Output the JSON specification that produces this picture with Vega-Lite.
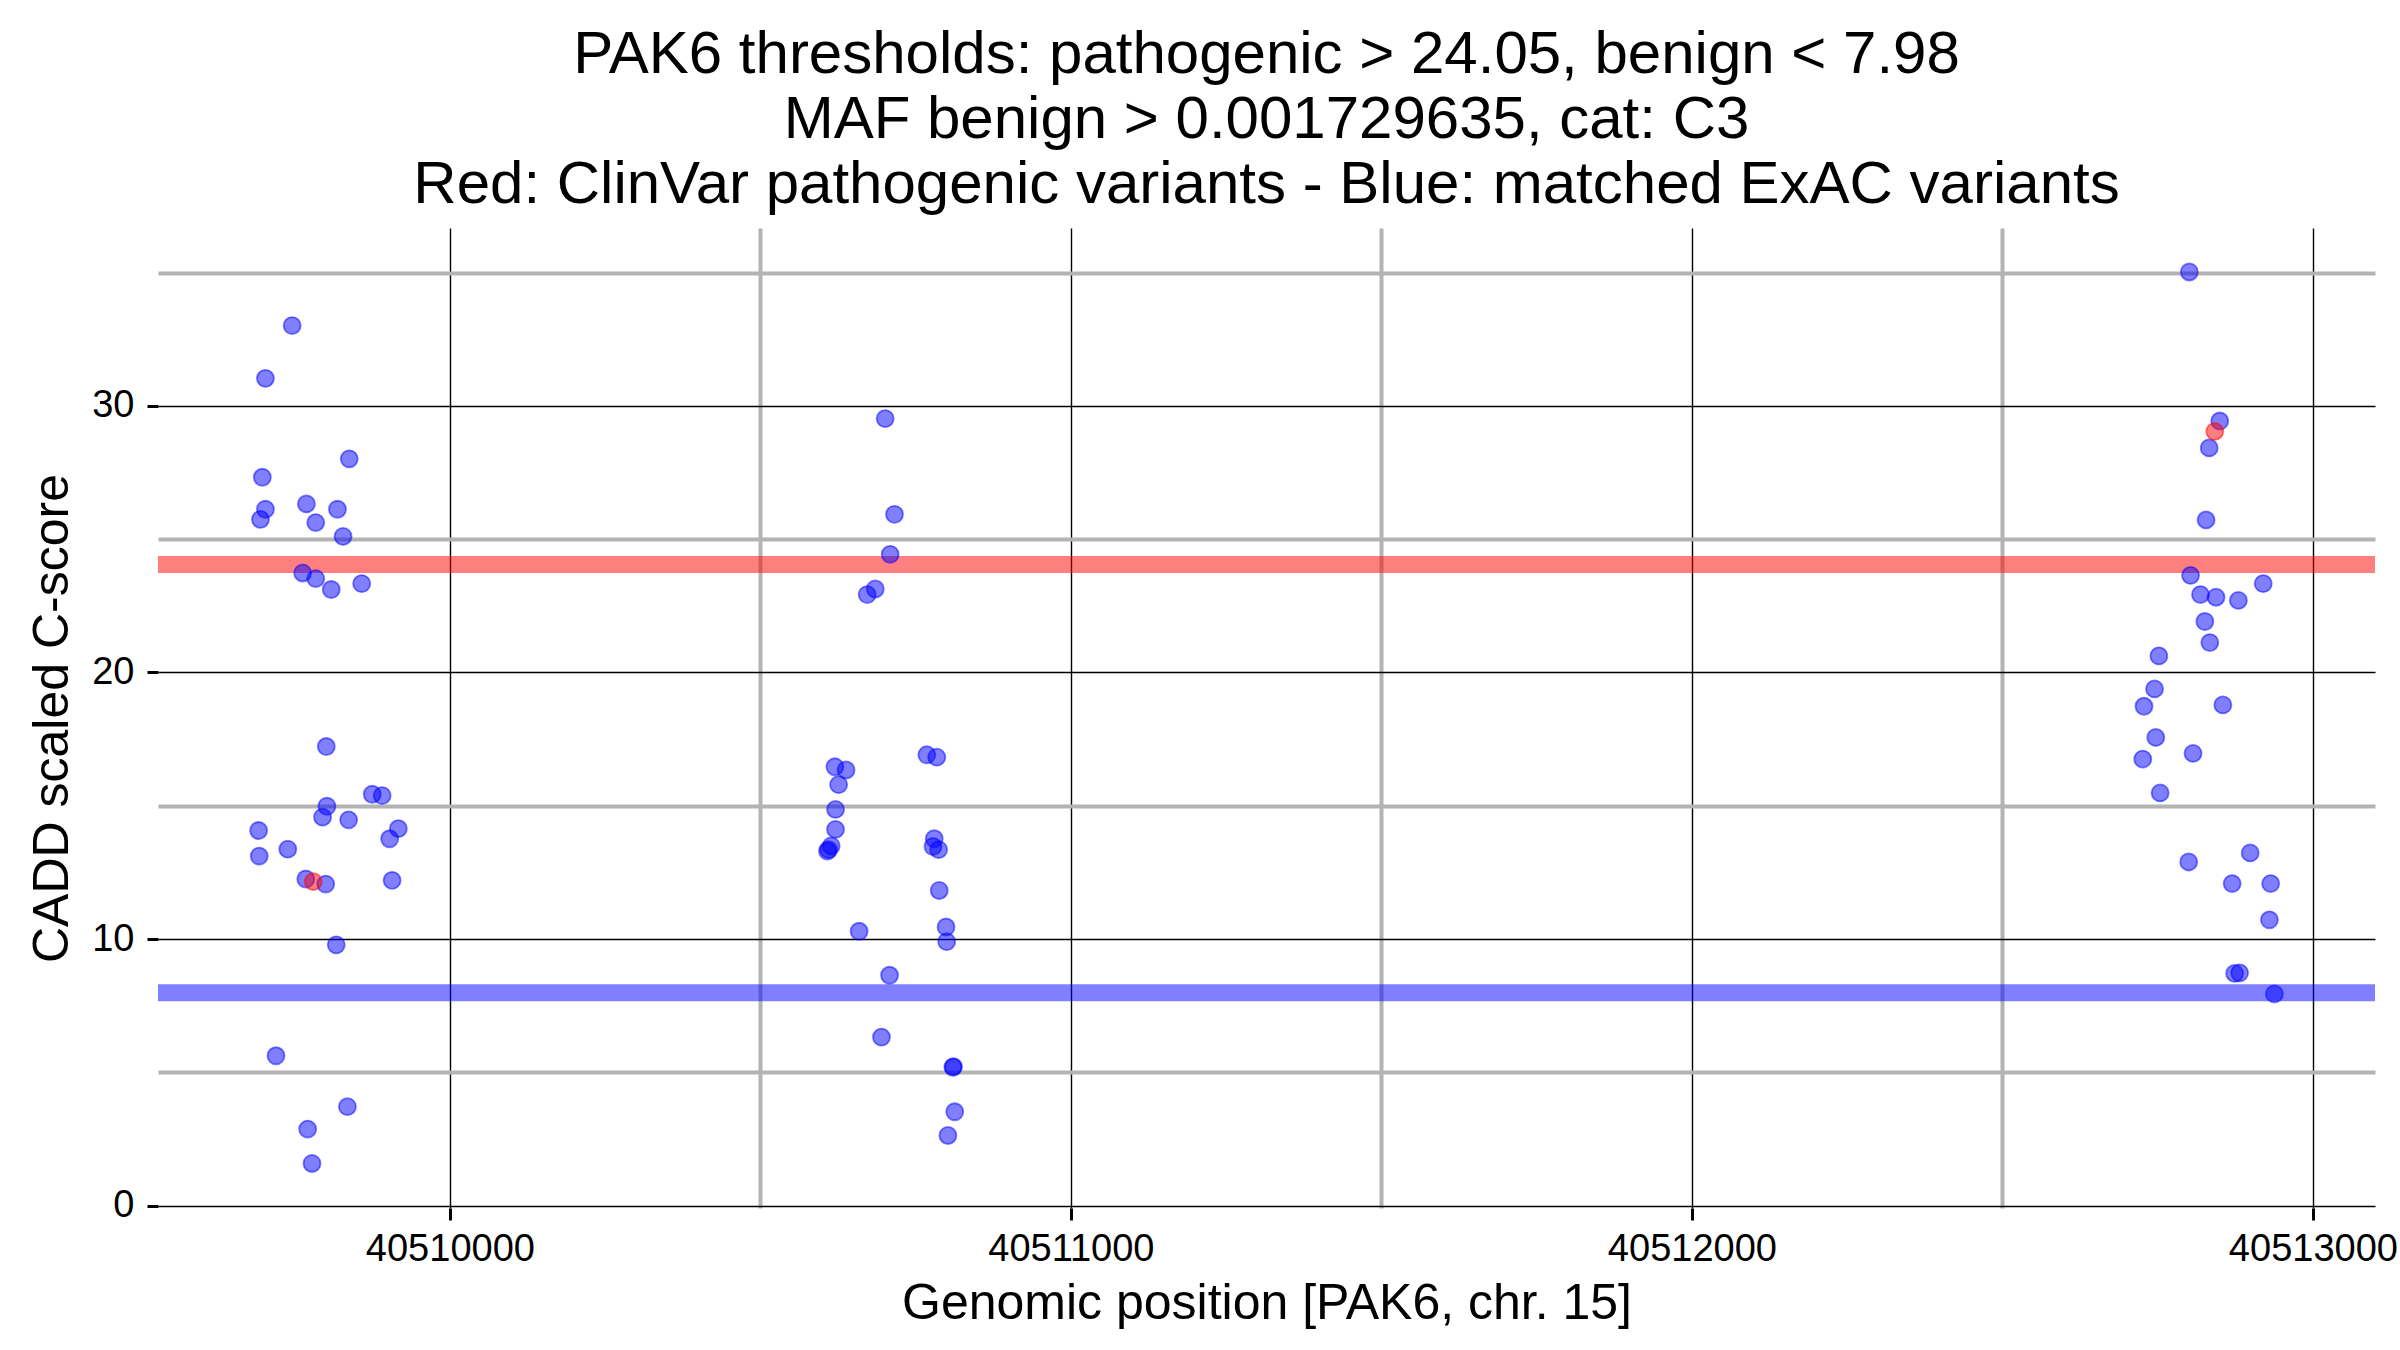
{
  "$schema": "https://vega.github.io/schema/vega-lite/v6.json",
  "width": 2217,
  "height": 980,
  "autosize": {"type": "none"},
  "padding": {"left": 158, "top": 228, "right": 25, "bottom": 142},
  "background": "white",
  "config": {
    "view": {"stroke": null},
    "font": "Liberation Sans"
  },
  "title": {
    "text": ["PAK6 thresholds: pathogenic > 24.05, benign < 7.98", "MAF benign > 0.001729635, cat: C3", "Red: ClinVar pathogenic variants - Blue: matched ExAC variants"],
    "fontSize": 60,
    "font": "Liberation Sans",
    "fontWeight": "normal",
    "color": "black",
    "anchor": "middle",
    "frame": "group",
    "lineHeight": 65,
    "baseline": "bottom",
    "offset": -48
  },
  "datasets": {
    "thresholds": [
      {"score": 24.05, "kind": "pathogenic"},
      {"score": 7.98, "kind": "benign"}
    ],
    "variants": [
      {"pos": 40509746, "score": 33.01, "kind": "ExAC"},
      {"pos": 40509703, "score": 31.03, "kind": "ExAC"},
      {"pos": 40509838, "score": 28.01, "kind": "ExAC"},
      {"pos": 40509698, "score": 27.32, "kind": "ExAC"},
      {"pos": 40509703, "score": 26.12, "kind": "ExAC"},
      {"pos": 40509695, "score": 25.74, "kind": "ExAC"},
      {"pos": 40509769, "score": 26.32, "kind": "ExAC"},
      {"pos": 40509784, "score": 25.62, "kind": "ExAC"},
      {"pos": 40509819, "score": 26.12, "kind": "ExAC"},
      {"pos": 40509828, "score": 25.10, "kind": "ExAC"},
      {"pos": 40509763, "score": 23.73, "kind": "ExAC"},
      {"pos": 40509784, "score": 23.52, "kind": "ExAC"},
      {"pos": 40509809, "score": 23.11, "kind": "ExAC"},
      {"pos": 40509858, "score": 23.33, "kind": "ExAC"},
      {"pos": 40509801, "score": 17.22, "kind": "ExAC"},
      {"pos": 40509875, "score": 15.43, "kind": "ExAC"},
      {"pos": 40509891, "score": 15.38, "kind": "ExAC"},
      {"pos": 40509802, "score": 14.98, "kind": "ExAC"},
      {"pos": 40509795, "score": 14.57, "kind": "ExAC"},
      {"pos": 40509837, "score": 14.47, "kind": "ExAC"},
      {"pos": 40509692, "score": 14.07, "kind": "ExAC"},
      {"pos": 40509917, "score": 14.14, "kind": "ExAC"},
      {"pos": 40509903, "score": 13.76, "kind": "ExAC"},
      {"pos": 40509693, "score": 13.11, "kind": "ExAC"},
      {"pos": 40509739, "score": 13.37, "kind": "ExAC"},
      {"pos": 40509768, "score": 12.25, "kind": "ExAC"},
      {"pos": 40509800, "score": 12.06, "kind": "ExAC"},
      {"pos": 40509907, "score": 12.20, "kind": "ExAC"},
      {"pos": 40509817, "score": 9.78, "kind": "ExAC"},
      {"pos": 40509720, "score": 5.62, "kind": "ExAC"},
      {"pos": 40509835, "score": 3.71, "kind": "ExAC"},
      {"pos": 40509771, "score": 2.87, "kind": "ExAC"},
      {"pos": 40509778, "score": 1.58, "kind": "ExAC"},
      {"pos": 40510701, "score": 29.52, "kind": "ExAC"},
      {"pos": 40510716, "score": 25.93, "kind": "ExAC"},
      {"pos": 40510709, "score": 24.43, "kind": "ExAC"},
      {"pos": 40510685, "score": 23.13, "kind": "ExAC"},
      {"pos": 40510672, "score": 22.92, "kind": "ExAC"},
      {"pos": 40510768, "score": 16.91, "kind": "ExAC"},
      {"pos": 40510784, "score": 16.82, "kind": "ExAC"},
      {"pos": 40510620, "score": 16.46, "kind": "ExAC"},
      {"pos": 40510638, "score": 16.34, "kind": "ExAC"},
      {"pos": 40510626, "score": 15.79, "kind": "ExAC"},
      {"pos": 40510621, "score": 14.86, "kind": "ExAC"},
      {"pos": 40510621, "score": 14.11, "kind": "ExAC"},
      {"pos": 40510614, "score": 13.49, "kind": "ExAC"},
      {"pos": 40510608, "score": 13.30, "kind": "ExAC"},
      {"pos": 40510610, "score": 13.35, "kind": "ExAC"},
      {"pos": 40510780, "score": 13.76, "kind": "ExAC"},
      {"pos": 40510778, "score": 13.47, "kind": "ExAC"},
      {"pos": 40510787, "score": 13.35, "kind": "ExAC"},
      {"pos": 40510788, "score": 11.82, "kind": "ExAC"},
      {"pos": 40510659, "score": 10.29, "kind": "ExAC"},
      {"pos": 40510799, "score": 10.45, "kind": "ExAC"},
      {"pos": 40510800, "score": 9.90, "kind": "ExAC"},
      {"pos": 40510708, "score": 8.64, "kind": "ExAC"},
      {"pos": 40510695, "score": 6.32, "kind": "ExAC"},
      {"pos": 40510810, "score": 5.19, "kind": "ExAC"},
      {"pos": 40510811, "score": 5.21, "kind": "ExAC"},
      {"pos": 40510813, "score": 3.52, "kind": "ExAC"},
      {"pos": 40510802, "score": 2.63, "kind": "ExAC"},
      {"pos": 40512801, "score": 35.02, "kind": "ExAC"},
      {"pos": 40512850, "score": 29.43, "kind": "ExAC"},
      {"pos": 40512833, "score": 28.42, "kind": "ExAC"},
      {"pos": 40512828, "score": 25.72, "kind": "ExAC"},
      {"pos": 40512803, "score": 23.64, "kind": "ExAC"},
      {"pos": 40512920, "score": 23.33, "kind": "ExAC"},
      {"pos": 40512819, "score": 22.92, "kind": "ExAC"},
      {"pos": 40512844, "score": 22.82, "kind": "ExAC"},
      {"pos": 40512880, "score": 22.70, "kind": "ExAC"},
      {"pos": 40512826, "score": 21.91, "kind": "ExAC"},
      {"pos": 40512834, "score": 21.12, "kind": "ExAC"},
      {"pos": 40512752, "score": 20.62, "kind": "ExAC"},
      {"pos": 40512745, "score": 19.38, "kind": "ExAC"},
      {"pos": 40512728, "score": 18.73, "kind": "ExAC"},
      {"pos": 40512855, "score": 18.78, "kind": "ExAC"},
      {"pos": 40512747, "score": 17.56, "kind": "ExAC"},
      {"pos": 40512807, "score": 16.96, "kind": "ExAC"},
      {"pos": 40512726, "score": 16.75, "kind": "ExAC"},
      {"pos": 40512754, "score": 15.48, "kind": "ExAC"},
      {"pos": 40512800, "score": 12.89, "kind": "ExAC"},
      {"pos": 40512899, "score": 13.23, "kind": "ExAC"},
      {"pos": 40512870, "score": 12.08, "kind": "ExAC"},
      {"pos": 40512932, "score": 12.08, "kind": "ExAC"},
      {"pos": 40512930, "score": 10.72, "kind": "ExAC"},
      {"pos": 40512874, "score": 8.71, "kind": "ExAC"},
      {"pos": 40512882, "score": 8.73, "kind": "ExAC"},
      {"pos": 40512938, "score": 7.94, "kind": "ExAC"},
      {"pos": 40509780, "score": 12.15, "kind": "ClinVar"},
      {"pos": 40512842, "score": 29.04, "kind": "ClinVar"}
    ]
  },
  "encoding": {
    "y": {
      "field": "score",
      "type": "quantitative",
      "scale": {"domain": [-0.09, 36.67], "nice": false, "zero": false},
      "axis": {
        "title": "CADD scaled C-score",
        "titleFontSize": 50,
        "titleFontWeight": "normal",
        "titleColor": "black",
        "titleFont": "Liberation Sans",
        "titlePadding": 14,
        "values": [0, 5, 10, 15, 20, 25, 30, 35],
        "labelExpr": "datum.value % 10 == 0 ? format(datum.value, 'd') : ''",
        "labelFontSize": 38,
        "labelColor": "black",
        "labelFont": "Liberation Sans",
        "labelPadding": 13,
        "tickSize": 11,
        "tickColor": "black",
        "tickWidth": 3,
        "tickOpacity": {"condition": {"test": "datum.value % 10 == 0", "value": 1}, "value": 0},
        "domain": false,
        "grid": true,
        "gridColor": {"condition": {"test": "datum.value % 10 == 0", "value": "black"}, "value": "#b3b3b3"},
        "gridWidth": {"condition": {"test": "datum.value % 10 == 0", "value": 1.4}, "value": 4},
        "gridOpacity": 1
      }
    }
  },
  "layer": [
    {
      "data": {"name": "thresholds"},
      "mark": {"type": "rule", "strokeWidth": 17, "opacity": 0.5},
      "encoding": {
        "color": {
          "field": "kind",
          "type": "nominal",
          "scale": {"domain": ["ExAC", "ClinVar", "benign", "pathogenic"], "range": ["#0000ff", "#ff0000", "#0000ff", "#ff0000"]},
          "legend": null
        }
      }
    },
    {
      "data": {"name": "variants"},
      "mark": {"type": "circle", "size": 290, "fillOpacity": 0.5, "strokeOpacity": 0.5, "strokeWidth": 1.8},
      "encoding": {
        "x": {
          "field": "pos",
          "type": "quantitative",
          "scale": {"domain": [40509530, 40513100], "nice": false, "zero": false},
          "axis": {
            "title": "Genomic position [PAK6, chr. 15]",
            "titleFontSize": 50,
            "titleFontWeight": "normal",
            "titleColor": "black",
            "titleFont": "Liberation Sans",
            "titlePadding": 10,
            "values": [40510000, 40510500, 40511000, 40511500, 40512000, 40512500, 40513000],
            "labelExpr": "datum.value % 1000 == 0 ? format(datum.value, 'd') : ''",
            "labelFontSize": 38,
            "labelColor": "black",
            "labelFont": "Liberation Sans",
            "labelPadding": 10,
            "labelFlush": false,
            "labelOverlap": false,
            "tickSize": 12,
            "tickColor": "black",
            "tickWidth": 3,
            "tickOpacity": {"condition": {"test": "datum.value % 1000 == 0", "value": 1}, "value": 0},
            "domain": false,
            "grid": true,
            "gridColor": {"condition": {"test": "datum.value % 1000 == 0", "value": "black"}, "value": "#b3b3b3"},
            "gridWidth": {"condition": {"test": "datum.value % 1000 == 0", "value": 1.4}, "value": 4},
            "gridOpacity": 1
          }
        },
        "color": {
          "field": "kind",
          "type": "nominal",
          "scale": {"domain": ["ExAC", "ClinVar", "benign", "pathogenic"], "range": ["#0000ff", "#ff0000", "#0000ff", "#ff0000"]},
          "legend": null
        },
        "stroke": {
          "field": "kind",
          "type": "nominal",
          "scale": {"domain": ["ExAC", "ClinVar", "benign", "pathogenic"], "range": ["#0000ff", "#ff0000", "#0000ff", "#ff0000"]},
          "legend": null
        }
      }
    }
  ]
}
